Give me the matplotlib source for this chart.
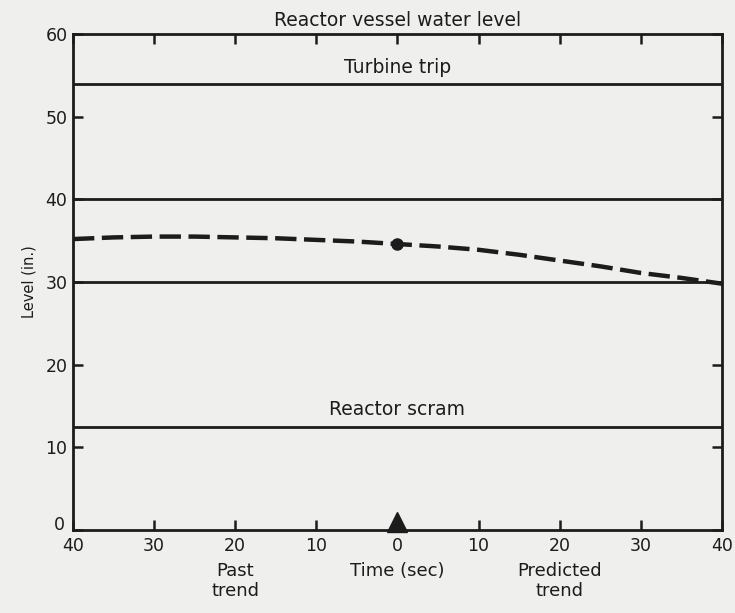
import numpy as np
import matplotlib.pyplot as plt
import matplotlib.transforms as mtransforms

plt.rcParams['font.family'] = ['DejaVu Sans']

# past trend and predicted trend of the level (in.) vs time (sec)
time_sec = [-40, -35, -30, -25, -20, -15, -10, -5, 0, 5, 10, 15, 20, 25, 30, 35, 40]
level_in = [35.2, 35.4, 35.5, 35.5, 35.4, 35.3, 35.1, 34.9, 34.6, 34.3, 33.9, 33.3, 32.6, 31.9, 31.1, 30.5, 29.8]
now_level = 34.6

# setpoint lines
turbine_trip = 54.0
band_high = 40.0
band_low = 30.0
reactor_scram = 12.5

x_ticks = [-40, -30, -20, -10, 0, 10, 20, 30, 40]
x_labels = ['40', '30', '20', '10', '0', '10', '20', '30', '40']
y_ticks = [0, 10, 20, 30, 40, 50, 60]
y_labels = ['0', '10', '20', '30', '40', '50', '60']

bg = '#efefed'
ink = '#1c1c1c'

fig = plt.figure(figsize=(7.35, 6.13), dpi=100, facecolor=bg)
ax = fig.add_axes([0.0993, 0.1354, 0.883, 0.809], facecolor=bg)

for lvl in [turbine_trip, band_high, band_low, reactor_scram]:
    ax.axhline(lvl, color=ink, lw=2.0)

ax.plot(time_sec, level_in, color=ink, lw=3.2, ls=(0, (4.8, 1.7)))
ax.plot(0, now_level, 'o', color=ink, ms=8)
ax.plot(0, 1.0, '^', color=ink, ms=14, clip_on=False)

ax.set_xlim(-40, 40)
ax.set_ylim(0, 60)
ax.set_xticks(x_ticks)
ax.set_xticklabels(x_labels)
ax.set_yticks(y_ticks)
ax.set_yticklabels(y_labels)
ax.tick_params(direction='in', length=7, width=1.8, colors=ink, labelsize=12.5,
               top=True, right=True)
ax.tick_params(axis='x', pad=5)
ax.tick_params(axis='y', pad=4)
for s in ax.spines.values():
    s.set_linewidth(2.0)
    s.set_color(ink)

# the "0" of the level axis sits a little higher, clear of the time labels
zero_lbl = ax.get_yticklabels()[0]
zero_lbl.set_transform(zero_lbl.get_transform() +
                       mtransforms.ScaledTranslation(-2 / 72, 5 / 72, fig.dpi_scale_trans))

ax.text(0, 56.0, 'Turbine trip', ha='center', va='center', fontsize=13.5, color=ink)
ax.text(0, 14.6, 'Reactor scram', ha='center', va='center', fontsize=13.5, color=ink)
ax.set_title('Reactor vessel water level', fontsize=13.5, color=ink, pad=6)
ax.set_ylabel('Level (in.)', fontsize=10.5, color=ink, labelpad=6)

ax.text(-20, -3.9, 'Past\ntrend', ha='center', va='top', fontsize=13, color=ink,
        linespacing=1.15)
ax.text(0, -3.9, 'Time (sec)', ha='center', va='top', fontsize=13, color=ink)
ax.text(20, -3.9, 'Predicted\ntrend', ha='center', va='top', fontsize=13, color=ink,
        linespacing=1.15)

fig.savefig('out.png', dpi=100, facecolor=bg)
